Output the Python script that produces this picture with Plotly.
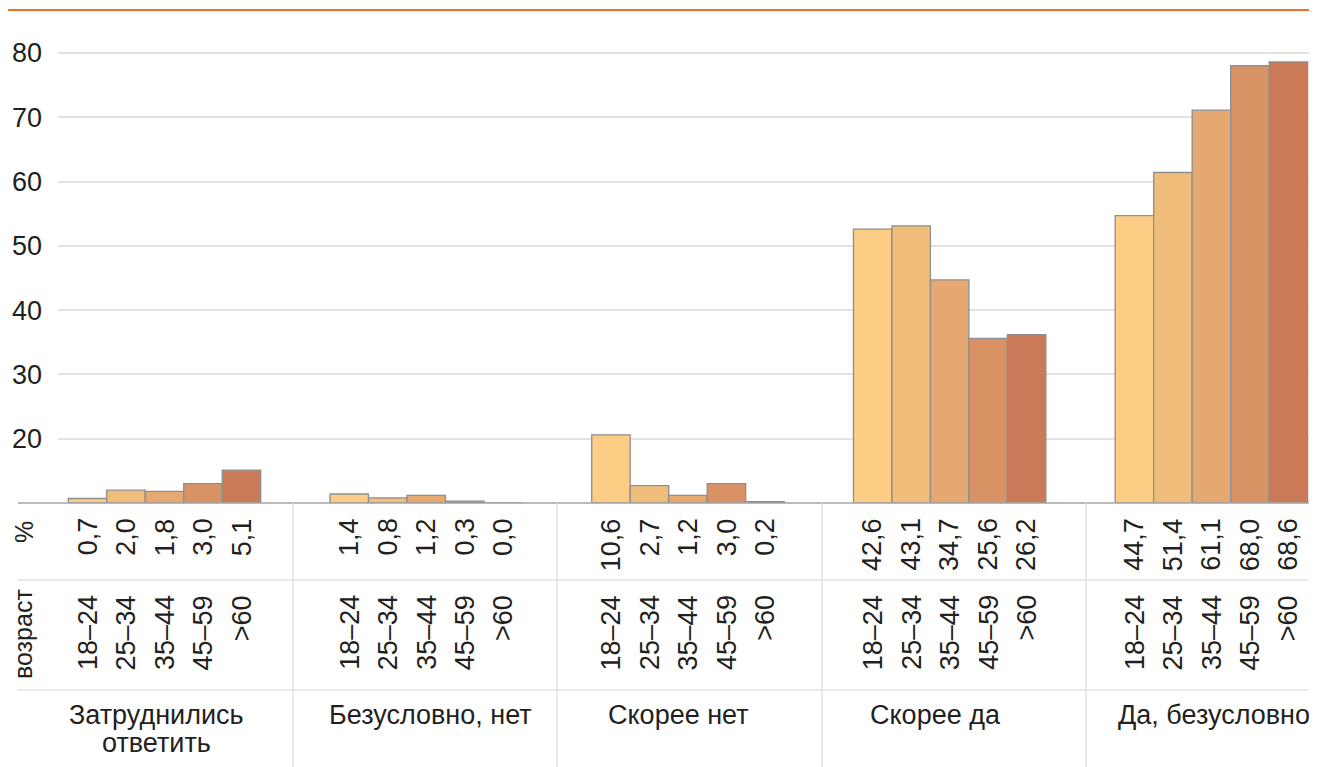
import plotly.graph_objects as go

# answer groups (x categories) and age bands (series)
groups = ["Затруднились ответить", "Безусловно, нет", "Скорее нет", "Скорее да", "Да, безусловно"]
ages = ["18–24", "25–34", "35–44", "45–59", ">60"]

# % of each age band per answer
hard_to_say = [0.7, 2.0, 1.8, 3.0, 5.1]
definitely_no = [1.4, 0.8, 1.2, 0.3, 0.0]
rather_no = [10.6, 2.7, 1.2, 3.0, 0.2]
rather_yes = [42.6, 43.1, 34.7, 25.6, 26.2]
definitely_yes = [44.7, 51.4, 61.1, 68.0, 68.6]

# the printed axis is offset by 10 from the bar scale
y_ticks = [10, 20, 30, 40, 50, 60, 70]
y_tick_labels = ["20", "30", "40", "50", "60", "70", "80"]

by_group = [hard_to_say, definitely_no, rather_no, rather_yes, definitely_yes]
age_colors = ["#fdcd85", "#f1bd7a", "#e4a870", "#d89264", "#cb7a57"]

FONT = "Liberation Sans, Arial, sans-serif"
TEXT = "#231f20"
FS = 27
OFF = 8  # page body margin
W, H = 1317 - OFF, 767 - OFF
L, R, T, B = 58 - OFF, 0, 30 - OFF, 767 - 503
PW, PH = W - L - R, H - T - B
STEP = 6.8  # distance between groups in bar widths

# advance widths (em) of the glyphs used in the rotated labels
EM = {",": 0.278, "–": 0.556, ">": 0.584, "%": 0.889}


def text_len(s, size):
    return sum(EM.get(c, 0.556) for c in s) * size


def px_x(p):
    return (p - OFF - L) / PW


def px_y(p):
    return (H - B - (p - OFF)) / PH


def fmt(v):
    return f"{v:.1f}".replace(".", ",")


fig = go.Figure()
for i, age in enumerate(ages):
    fig.add_trace(go.Bar(
        x=[g * STEP + i for g in range(len(groups))],
        y=[vals[i] for vals in by_group],
        width=1,
        name=age,
        marker=dict(color=age_colors[i], line=dict(color="#8e8e8e", width=1.3)),
        hoverinfo="y+name",
    ))


def vlabel(txt, x, xref, top, size=FS, length=None):
    # rotated label whose right end (top) sits at pixel row `top`
    n = length if length is not None else text_len(txt, size)
    return dict(x=x, xref=xref, y=px_y(top + n / 2), yref="paper", text=txt,
                textangle=-90, xanchor="center", yanchor="middle", showarrow=False,
                font=dict(size=size))


annotations = []
for g, vals in enumerate(by_group):
    for i, v in enumerate(vals):
        x = g * STEP + i
        annotations.append(vlabel(fmt(v), x, "x", 518))
        annotations.append(vlabel(ages[i], x, "x", 595))

annotations.append(vlabel("%", px_x(24), "paper", 521, size=25))
annotations.append(vlabel("возраст", px_x(23), "paper", 590, size=25, length=88))

label_lines = [("Затруднились", 156, 715), ("ответить", 156, 743),
               (groups[1], 430, 715), (groups[2], 678, 715),
               (groups[3], 936, 715), (groups[4], 1214, 715)]
for txt, cx, cy in label_lines:
    annotations.append(dict(x=px_x(cx), xref="paper", y=px_y(cy), yref="paper", text=txt,
                            xanchor="center", yanchor="middle", showarrow=False))

grid = "#e2e2e2"
shapes = [
    dict(type="line", xref="paper", yref="paper", x0=px_x(8), x1=1, y0=px_y(10), y1=px_y(10),
         line=dict(color="#f76b25", width=2)),
    dict(type="line", xref="paper", yref="paper", x0=px_x(18), x1=1, y0=0, y1=0,
         line=dict(color="#a3a3a3", width=1.5), layer="above"),
]
for yy in (580, 690):
    shapes.append(dict(type="line", xref="paper", yref="paper", x0=px_x(18), x1=1,
                       y0=px_y(yy), y1=px_y(yy), line=dict(color=grid, width=1.5)))
for xx in (293, 557, 822, 1086):
    shapes.append(dict(type="line", xref="paper", yref="paper", x0=px_x(xx), x1=px_x(xx),
                       y0=0, y1=px_y(767), line=dict(color=grid, width=1.5)))

x_left = -(87.5 - 58) / 38.49
fig.update_layout(
    width=W, height=H,
    margin=dict(l=L, r=R, t=T, b=B, pad=0),
    paper_bgcolor="white", plot_bgcolor="white",
    font=dict(family=FONT, size=FS, color=TEXT),
    showlegend=False,
    barmode="overlay",
    xaxis=dict(range=[x_left, x_left + PW / 38.49], visible=False, fixedrange=True),
    yaxis=dict(range=[0, PH / 6.43], tickvals=y_ticks, ticktext=y_tick_labels,
               showgrid=True, gridcolor=grid, gridwidth=1.5, zeroline=False,
               showline=False, ticks="", ticklabelstandoff=15, fixedrange=True),
    annotations=annotations,
    shapes=shapes,
)

fig.write_html("out.html")
